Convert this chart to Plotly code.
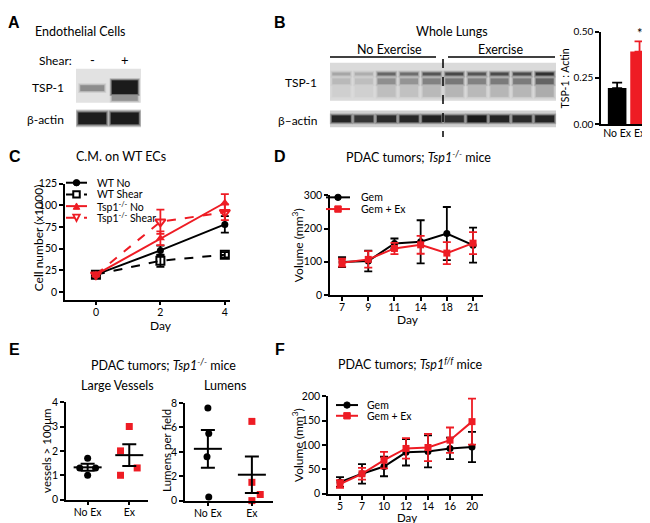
import numpy as np
import plotly.graph_objects as go

W, H = 650, 523
FONT = "Lato"
RED = "#ee1c24"
BLACK = "#000000"

# ---------------- data ----------------
# A: endothelial cell western blot (relative band darkness per lane)
a_lanes = ["-", "+"]
a_tsp1_intensity = [0.30, 0.95]
a_actin_intensity = [0.90, 0.92]

# B: whole lung blot (10 lanes: 5 no exercise, 5 exercise) and quantification
b_groups = ["No Exercise", "Exercise"]
b_tsp1_intensity = [0.18, 0.15, 0.45, 0.42, 0.55, 0.62, 0.55, 0.60, 0.60, 0.78]
b_actin_intensity = [0.85, 0.72, 0.80, 0.82, 0.88, 0.75, 0.95, 0.85, 0.80, 0.85]
b_bar_labels = ["No Ex", "Ex"]
b_bar_values = [0.195, 0.392]
b_bar_err = [0.03, 0.055]

# C: conditioned media on WT ECs
c_days = [0, 2, 4]
c_wt_no = [20, 48, 78]
c_wt_no_err = [2, 5.5, 9.5]
c_wt_shear = [20, 36, 43]
c_wt_shear_err = [2, 7, 3]
c_ko_no = [20, 62, 103]
c_ko_no_err = [2, 8, 10]
c_ko_shear = [20, 81, 92]
c_ko_shear_err = [2, 14, 9]

# D: PDAC tumors, Tsp1-/- mice
d_days = ["7", "9", "11", "14", "18", "21"]
d_gem = [99, 102, 155, 160, 185, 150]
d_gem_err = [15, 31, 15, 65, 80, 53]
d_gemex = [97, 107, 140, 151, 126, 156]
d_gemex_err = [12, 25, 17, 27, 33, 33]

# E: vessels and lumens
e_groups = ["No Ex", "Ex"]
e_vessels_noex = [1.7, 1.3, 1.3, 1.0]
e_vessels_ex = [3.0, 2.0, 1.3, 1.0]
e_vessels_jitter_noex = [0.0, -0.19, 0.19, 0.0]
e_vessels_jitter_ex = [0.0, -0.21, 0.19, -0.21]
e_lumens_noex = [7.6, 5.5, 3.6, 0.3]
e_lumens_ex = [6.5, 1.5, 0.5, 0.0]
e_lumens_jitter_noex = [0.0, 0.02, -0.02, 0.02]
e_lumens_jitter_ex = [0.0, 0.0, 0.19, 0.0]

# F: PDAC tumors, Tsp1 f/f mice
f_days = ["5", "7", "10", "12", "14", "16", "20"]
f_gem = [24, 41, 56, 85, 87, 93, 96]
f_gem_err = [10, 20, 20, 27, 33, 22, 31]
f_gemex = [20, 41, 69, 93, 95, 110, 148]
f_gemex_err = [8, 12, 17, 21, 28, 26, 47]


# ---------------- helpers ----------------
def X(p):
    return p / W


def Y(p):
    return 1 - p / H


def dom_x(a, b):
    return [X(a), X(b)]


def dom_y(top, bottom):
    return [Y(bottom), Y(top)]


fig = go.Figure()


def txt(x, y, s, size=12.5, anchor="center", angle=0, family=FONT, yanchor="middle"):
    fig.add_annotation(x=X(x), y=Y(y), xref="paper", yref="paper", text=s,
                       showarrow=False, textangle=angle, xanchor=anchor, yanchor=yanchor,
                       borderpad=0, font=dict(family=family, size=size, color="black"))


def rect(x0, y0, x1, y1, fill, opacity=1.0, line_color=None, line_width=0):
    fig.add_shape(type="rect", xref="paper", yref="paper",
                  x0=X(x0), x1=X(x1), y0=Y(y1), y1=Y(y0),
                  fillcolor=fill, opacity=opacity,
                  line=dict(width=line_width, color=line_color or fill), layer="above")


def band(x0, x1, y0, y1, inten):
    for grow, frac in [(2, 0.25), (1, 0.35), (0, 0.8)]:
        rect(x0 - grow, y0 - grow, x1 + grow, y1 + grow, "black", opacity=min(1, inten * frac))


def hline(x0, x1, y, color="black", width=1.5, dash="solid"):
    fig.add_shape(type="line", xref="paper", yref="paper", x0=X(x0), x1=X(x1),
                  y0=Y(y), y1=Y(y), line=dict(color=color, width=width, dash=dash), layer="above")


def marker_shape(cx, cy, sym, color, s=6.5):
    r = s / 2
    if sym == "circle":
        fig.add_shape(type="circle", xref="paper", yref="paper", x0=X(cx - r), x1=X(cx + r),
                      y0=Y(cy + r), y1=Y(cy - r), fillcolor=color, line=dict(color=color, width=1), layer="above")
    elif sym == "square":
        fig.add_shape(type="rect", xref="paper", yref="paper", x0=X(cx - r), x1=X(cx + r),
                      y0=Y(cy + r), y1=Y(cy - r), fillcolor=color, line=dict(color=color, width=1), layer="above")
    elif sym == "square-open":
        fig.add_shape(type="rect", xref="paper", yref="paper", x0=X(cx - r), x1=X(cx + r),
                      y0=Y(cy + r), y1=Y(cy - r), fillcolor="white", line=dict(color=color, width=2), layer="above")
    elif sym == "triangle-up":
        p = f"M {X(cx - r)},{Y(cy + r)} L {X(cx + r)},{Y(cy + r)} L {X(cx)},{Y(cy - r)} Z"
        fig.add_shape(type="path", xref="paper", yref="paper", path=p, fillcolor=color,
                      line=dict(color=color, width=1), layer="above")
    elif sym == "triangle-down-open":
        p = f"M {X(cx - r)},{Y(cy - r)} L {X(cx + r)},{Y(cy - r)} L {X(cx)},{Y(cy + r)} Z"
        fig.add_shape(type="path", xref="paper", yref="paper", path=p, fillcolor="white",
                      line=dict(color=color, width=1.8), layer="above")


def legend_item(x0, x1, y, color, dash, sym, label, tx, size=10.5):
    hline(x0, x1, y, color=color, width=2, dash=dash)
    marker_shape((x0 + x1) / 2, y, sym, color)
    txt(tx, y, label, size=size, anchor="left")


TICKFONT = dict(family=FONT, size=10.5, color="black")


def axis_style(**kw):
    d = dict(showline=True, linecolor="black", linewidth=1.5, ticks="outside", ticklen=4,
             tickwidth=1.5, tickcolor="black", showgrid=False, zeroline=False,
             tickfont=TICKFONT, fixedrange=True)
    d.update(kw)
    return d


def xaxis_style(**kw):
    kw.setdefault("ticklabelstandoff", -2)
    return axis_style(**kw)


# ---------------- panel A: blot ----------------
txt(6, 8, "<b>A</b>", size=16, family="Liberation Sans")
txt(72, 17, "Endothelial Cells", size=12.5)
txt(47, 47, "Shear:", size=12)
a_x0, a_x1 = 68, 133
a_lw = (a_x1 - a_x0) / len(a_lanes)
for i, lab in enumerate(a_lanes):
    txt(a_x0 + (i + 0.5) * a_lw, 46, lab, size=13)
txt(57, 74, "TSP-1", size=12, anchor="right")
txt(57, 107, "β-actin", size=12, anchor="right")
rect(a_x0, 55, a_x1, 90, "#e2e2e2")
for i, v in enumerate(a_tsp1_intensity):
    cx = a_x0 + (i + 0.5) * a_lw
    if i == 0:
        band(cx - 12, cx + 12, 72, 78, v)
    else:
        band(cx - 13, cx + 13, 67, 81, v)
        band(cx - 13, cx + 13, 83, 88, v * 0.3)
rect(a_x0, 97, a_x1, 115, "#cfcfcf")
for i, v in enumerate(a_actin_intensity):
    cx = a_x0 + (i + 0.5) * a_lw
    band(cx - 14, cx + 14, 100, 112, v)

# ---------------- panel B: blot ----------------
txt(272, 8, "<b>B</b>", size=16, family="Liberation Sans")
txt(444, 17, "Whole Lungs", size=12.5)
txt(381, 35, b_groups[0], size=12.5)
txt(493, 35, b_groups[1], size=12.5)
hline(322, 428, 43)
hline(440, 547, 43)
txt(310, 69, "TSP-1", size=12, anchor="right")
txt(310, 108, "β–actin", size=12, anchor="right")
b_x0, b_x1 = 322, 548
b_lw = (b_x1 - b_x0) / len(b_tsp1_intensity)
rect(b_x0, 49, b_x1, 88, "#dadada")
for i, v in enumerate(b_tsp1_intensity):
    cx = b_x0 + (i + 0.5) * b_lw
    band(cx - 9, cx + 9, 59, 62, v)
    band(cx - 9, cx + 9, 65, 71, v * 0.6)
    band(cx - 9, cx + 9, 73, 84, v * 0.2)
rect(b_x0, 98, b_x1, 115, "#d0d0d0")
for i, v in enumerate(b_actin_intensity):
    cx = b_x0 + (i + 0.5) * b_lw
    band(cx - 9.5, cx + 9.5, 103, 110, v)
fig.add_shape(type="line", xref="paper", yref="paper", x0=X(435), x1=X(435), y0=Y(45), y1=Y(125),
              line=dict(color="black", width=1.5, dash="dash"), layer="above")

# B quantification bars
for lab, val, err, col in zip(b_bar_labels, b_bar_values, b_bar_err, [BLACK, RED]):
    fig.add_trace(go.Bar(x=[lab], y=[val], width=0.83, marker=dict(color=col, line=dict(width=0)),
                         error_y=dict(type="data", array=[err], arrayminus=[0], symmetric=False,
                                      color=col, thickness=1.8, width=5),
                         xaxis="x", yaxis="y"))
fig.add_annotation(x=b_bar_labels[1], y=b_bar_values[1] + b_bar_err[1], xref="x", yref="y",
                   text="*", showarrow=False, yanchor="bottom", yshift=-2,
                   font=dict(family=FONT, size=13, color="black"))
txt(557, 65, "TSP-1 : Actin", size=10.5, angle=-90)

# ---------------- panel C ----------------
txt(7, 145, "<b>C</b>", size=16, family="Liberation Sans")
txt(113, 145, "C.M. on WT ECs", size=12.5)
c_series = [
    ("WT No", c_wt_no, c_wt_no_err, BLACK, "solid", dict(symbol="circle", size=7, color=BLACK)),
    ("WT Shear", c_wt_shear, c_wt_shear_err, BLACK, "dash",
     dict(symbol="square-open", size=8, color=BLACK, line=dict(width=2, color=BLACK))),
    ("Tsp1-/- No", c_ko_no, c_ko_no_err, RED, "solid", dict(symbol="triangle-up", size=8, color=RED)),
    ("Tsp1-/- Shear", c_ko_shear, c_ko_shear_err, RED, "dash",
     dict(symbol="triangle-down-open", size=9, color=RED, line=dict(width=2, color=RED))),
]
for name, ys, es, col, dash, mk in c_series:
    fig.add_trace(go.Scatter(x=c_days, y=ys, name=name, mode="lines+markers",
                             line=dict(color=col, width=2, dash=dash), marker=mk,
                             error_y=dict(type="data", array=es, color=col, thickness=1.8, width=4),
                             cliponaxis=False, xaxis="x2", yaxis="y2"))
c_leg_y = [172, 184, 196, 208]
c_leg_sym = ["circle", "square-open", "triangle-up", "triangle-down-open"]
c_leg_lab = ["WT No", "WT Shear", "Tsp1<sup>-/-</sup> No", "Tsp1<sup>-/-</sup> Shear"]
for (name, ys, es, col, dash, mk), yy, sym, lab in zip(c_series, c_leg_y, c_leg_sym, c_leg_lab):
    legend_item(58, 79, yy, col, dash, sym, lab, 88, size=10.5)
txt(30, 229, "Cell number (x1000)", size=12, angle=-90)
txt(153, 318, "Day", size=12)

# ---------------- panel D ----------------
txt(272, 145, "<b>D</b>", size=16, family="Liberation Sans")
txt(410, 145, "PDAC tumors; <i>Tsp1</i><sup><i>-/-</i></sup> mice", size=12.5)
fig.add_trace(go.Scatter(x=d_days, y=d_gem, name="Gem", mode="lines+markers",
                         line=dict(color=BLACK, width=2), marker=dict(symbol="circle", size=7, color=BLACK),
                         error_y=dict(type="data", array=d_gem_err, color=BLACK, thickness=1.8, width=4),
                         cliponaxis=False, xaxis="x3", yaxis="y3"))
fig.add_trace(go.Scatter(x=d_days, y=d_gemex, name="Gem + Ex", mode="lines+markers",
                         line=dict(color=RED, width=2), marker=dict(symbol="square", size=7, color=RED),
                         error_y=dict(type="data", array=d_gemex_err, color=RED, thickness=1.8, width=4),
                         cliponaxis=False, xaxis="x3", yaxis="y3"))
legend_item(318, 342, 187, BLACK, "solid", "circle", "Gem", 352)
legend_item(318, 342, 199, RED, "solid", "square", "Gem + Ex", 352)
txt(290, 236, "Volume (mm<sup>3</sup>)", size=12, angle=-90)
txt(400, 312, "Day", size=12)

# ---------------- panel E ----------------
txt(6, 343, "<b>E</b>", size=16, family="Liberation Sans")
txt(155, 358, "PDAC tumors; <i>Tsp1</i><sup><i>-/-</i></sup> mice", size=12.5)
txt(109, 380, "Large Vessels", size=12.5)
txt(217, 380, "Lumens", size=12.5)


def scatter_dot(vals, jit, idx, col, sym, xa, ya):
    fig.add_trace(go.Scatter(x=[idx + j for j in jit], y=vals, mode="markers",
                             marker=dict(symbol=sym, size=7, color=col),
                             cliponaxis=False, xaxis=xa, yaxis=ya))


def mean_sem(groups, xa, ya):
    means = [float(np.mean(g)) for g in groups]
    sems = [float(np.std(g, ddof=1) / np.sqrt(len(g))) for g in groups]
    fig.add_trace(go.Scatter(x=list(range(len(groups))), y=means, mode="markers",
                             marker=dict(symbol="line-ew", size=20, color=BLACK,
                                         line=dict(width=2, color=BLACK)),
                             error_y=dict(type="data", array=sems, color=BLACK, thickness=2, width=7),
                             cliponaxis=False, xaxis=xa, yaxis=ya))


scatter_dot(e_vessels_noex, e_vessels_jitter_noex, 0, BLACK, "circle", "x4", "y4")
scatter_dot(e_vessels_ex, e_vessels_jitter_ex, 1, RED, "square", "x4", "y4")
mean_sem([e_vessels_noex, e_vessels_ex], "x4", "y4")
scatter_dot(e_lumens_noex, e_lumens_jitter_noex, 0, BLACK, "circle", "x5", "y5")
scatter_dot(e_lumens_ex, e_lumens_jitter_ex, 1, RED, "square", "x5", "y5")
mean_sem([e_lumens_noex, e_lumens_ex], "x5", "y5")
txt(39, 447, "vessels &gt; 100μm", size=11.5, angle=-90)
txt(159, 447, "Lumens per field", size=11.5, angle=-90)

# ---------------- panel F ----------------
txt(272, 343, "<b>F</b>", size=16, family="Liberation Sans")
txt(402, 357, "PDAC tumors; <i>Tsp1</i><sup><i>f/f</i></sup> mice", size=12.5)
fig.add_trace(go.Scatter(x=f_days, y=f_gem, name="Gem", mode="lines+markers",
                         line=dict(color=BLACK, width=2), marker=dict(symbol="circle", size=7, color=BLACK),
                         error_y=dict(type="data", array=f_gem_err, color=BLACK, thickness=1.8, width=4),
                         cliponaxis=False, xaxis="x6", yaxis="y6"))
fig.add_trace(go.Scatter(x=f_days, y=f_gemex, name="Gem + Ex", mode="lines+markers",
                         line=dict(color=RED, width=2), marker=dict(symbol="square", size=7, color=RED),
                         error_y=dict(type="data", array=f_gemex_err, color=RED, thickness=1.8, width=4),
                         cliponaxis=False, xaxis="x6", yaxis="y6"))
legend_item(328, 350, 400, BLACK, "solid", "circle", "Gem", 358)
legend_item(328, 350, 411, RED, "solid", "square", "Gem + Ex", 358)
txt(290, 441, "Volume (mm<sup>3</sup>)", size=12, angle=-90)
txt(399, 515, "Day", size=11.5)

# ---------------- layout ----------------
fig.update_layout(
    width=W, height=H, margin=dict(l=0, r=0, t=0, b=0),
    paper_bgcolor="white", plot_bgcolor="white", showlegend=False, barmode="overlay",
    font=dict(family=FONT, color="black"),
    xaxis=xaxis_style(domain=dom_x(593, 645), anchor="y", type="category", range=[-0.72, 1.6], ticks=""),
    yaxis=axis_style(domain=dom_y(17, 112), anchor="x", range=[0, 0.5], dtick=0.25, tickformat=".2f",
                     tickfont=dict(family=FONT, size=10, color="black")),
    xaxis2=xaxis_style(domain=dom_x(57, 222), anchor="y2", range=[-0.96, 4.16], tickvals=c_days),
    yaxis2=axis_style(domain=dom_y(173, 292), anchor="x2", range=[-9, 125], dtick=25),
    xaxis3=xaxis_style(domain=dom_x(322, 475), anchor="y3", type="category", range=[-0.46, 5.38]),
    yaxis3=axis_style(domain=dom_y(185, 287), anchor="x3", range=[0, 300], dtick=100),
    xaxis4=xaxis_style(domain=dom_x(58, 140), anchor="y4", range=[-0.52, 1.45],
                       tickvals=[0, 1], ticktext=e_groups),
    yaxis4=axis_style(domain=dom_y(397, 497), anchor="x4", range=[0, 4], dtick=1),
    xaxis5=xaxis_style(domain=dom_x(177, 265), anchor="y5", range=[-0.52, 1.48],
                       tickvals=[0, 1], ticktext=e_groups),
    yaxis5=axis_style(domain=dom_y(398, 498), anchor="x5", range=[0, 8], dtick=2),
    xaxis6=xaxis_style(domain=dom_x(320, 475), anchor="y6", type="category", range=[-0.545, 6.5]),
    yaxis6=axis_style(domain=dom_y(391, 491), anchor="x6", range=[0, 200], dtick=50),
)

fig.write_html("out.html")
